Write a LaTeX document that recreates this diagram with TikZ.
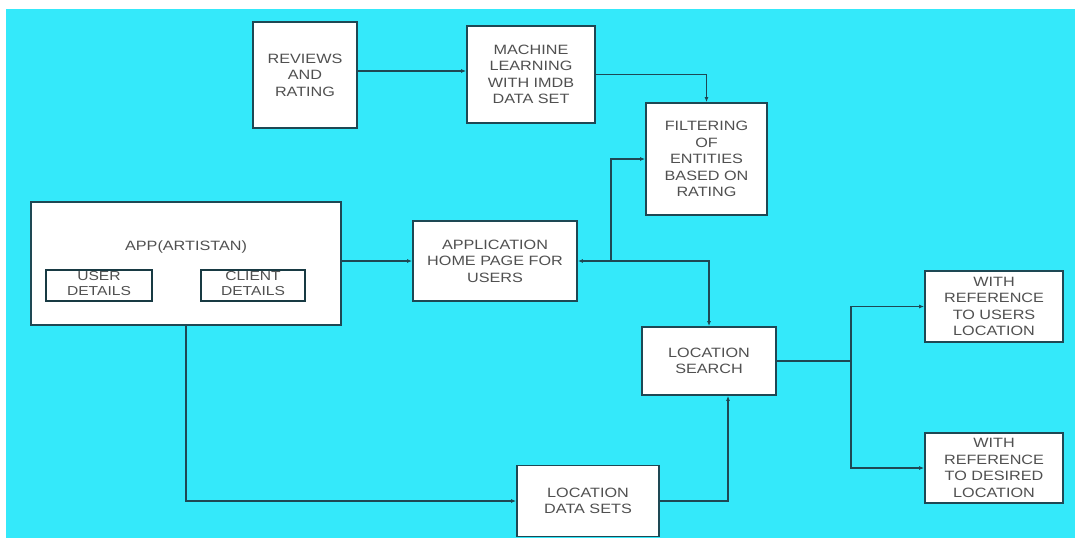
\documentclass[tikz,border=0pt]{standalone}
\usepackage{fontspec}
\setmainfont{Liberation Sans}[FakeStretch=1.2]
\usetikzlibrary{arrows.meta,calc}
\definecolor{bgcyan}{RGB}{52,233,250}
\definecolor{edge}{RGB}{30,72,84}
\definecolor{txt}{RGB}{80,80,80}
\begin{document}
\begin{tikzpicture}[x=1pt,y=-1pt,
  blk/.style={draw=edge,line width=1.8pt,fill=white,align=center,text=txt,
    font=\fontsize{13.5}{16.5}\selectfont,inner sep=1pt},
  inblk/.style={draw=edge!80!black,line width=1.2pt,fill=white,minimum height=31pt},
  intxt/.style={align=center,text=txt,font=\fontsize{13}{15}\selectfont,inner sep=0pt},
  conn/.style={draw=edge,line width=1.3pt},
  arr/.style={conn,-{Latex[length=5pt,width=4pt]}}
]
\useasboundingbox (0,0) rectangle (1075,538);
\fill[white] (0,0) rectangle (1075,538);
\fill[bgcyan] (6,9) rectangle (1075,538);

\node[blk,minimum width=104pt,minimum height=106pt] (rev) at (305,75) {REVIEWS\\AND\\RATING};
\node[blk,minimum width=128pt,minimum height=97pt] (ml) at (531,74.5) {MACHINE\\LEARNING\\WITH IMDB\\DATA SET};
\node[blk,minimum width=121pt,minimum height=112pt] (filt) at (706.5,159) {FILTERING\\OF\\ENTITIES\\BASED ON\\RATING};
\node[blk,minimum width=310pt,minimum height=123pt] (app) at (186,263.5) {};
\node[text=txt,font=\fontsize{13.5}{16.5}\selectfont] (apptitle) at (186,247) {APP(ARTISTAN)};
\node[inblk,minimum width=106pt] (user) at (99,285.5) {};
\node[inblk,minimum width=104pt] (client) at (253,285.5) {};
\node[intxt] (usertxt) at (99,284) {USER\\DETAILS};
\node[intxt] (clienttxt) at (253,284) {CLIENT\\DETAILS};
\draw[edge!80!black,line width=1.2pt] (user.north west) -- (user.north east);
\draw[edge!80!black,line width=1.2pt] (client.north west) -- (client.north east);
\node[blk,minimum width=164pt,minimum height=80pt] (hp) at (495,261) {APPLICATION\\HOME PAGE FOR\\USERS};
\node[blk,minimum width=134pt,minimum height=68pt] (ls) at (709,361) {LOCATION\\SEARCH};
\node[blk,minimum width=138pt,minimum height=71pt] (ur) at (994,306.5) {WITH\\REFERENCE\\TO USERS\\LOCATION};
\node[blk,minimum width=138pt,minimum height=70pt] (dr) at (994,468) {WITH\\REFERENCE\\TO DESIRED\\LOCATION};
\node[blk,minimum width=142pt,minimum height=71pt] (lds) at (588,501) {LOCATION\\DATA SETS};

\coordinate (br) at (611,261);
\coordinate (split) at (851,361);

\draw[arr] (rev.east |- 0,71) -- (ml.west |- 0,71);
\draw[arr] (ml.east) -| (filt.north);
\draw[arr] (app.east |- hp.west) -- (hp.west);
\draw[conn,{Latex[length=5pt,width=4pt]}-{Latex[length=5pt,width=4pt]}] (hp.east) -| (ls.north);
\draw[arr] (br) |- (filt.west);
\draw[arr] (app.south) |- (lds.west);
\draw[arr] (lds.east) -| ([xshift=19pt]ls.south);
\draw[conn] (ls.east) -- (split);
\draw[arr] (split) |- (ur.west);
\draw[arr] (split) |- (dr.west);
\end{tikzpicture}
\end{document}
